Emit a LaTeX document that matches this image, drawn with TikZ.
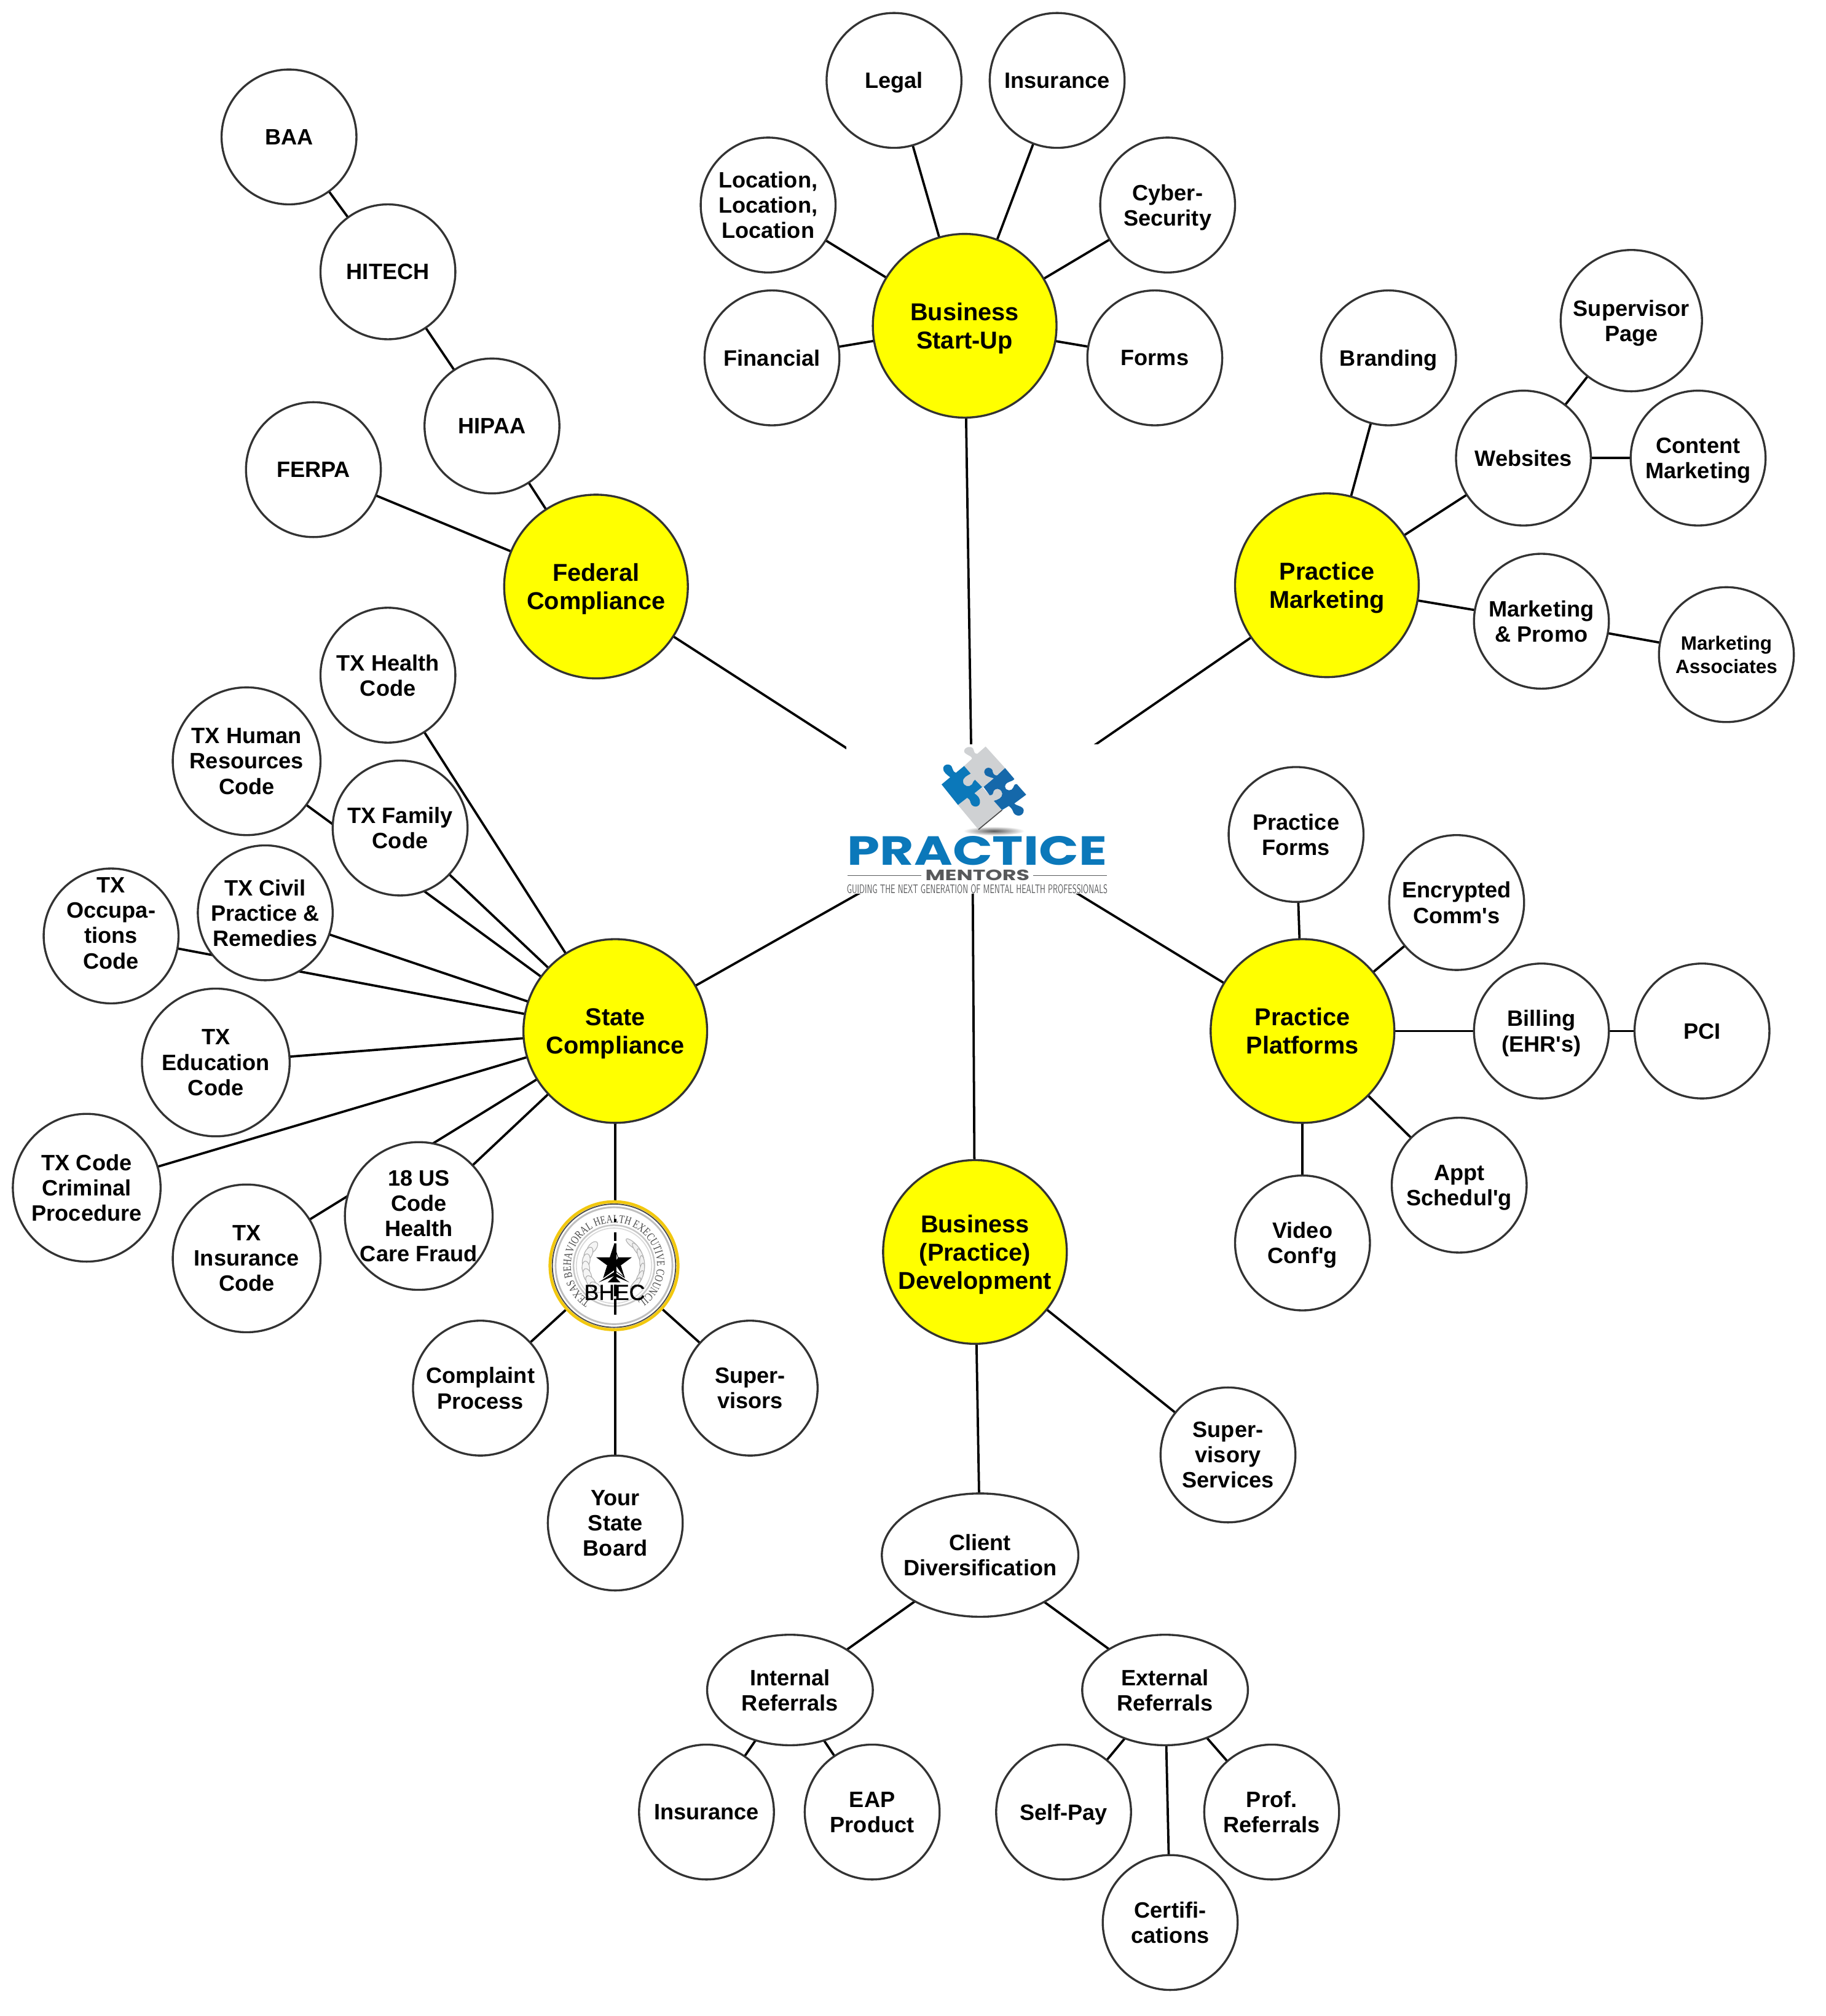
\documentclass[tikz,border=0pt]{standalone}
\usepackage{fontspec}
\usepackage{graphicx}
\setmainfont{Liberation Sans}
\newfontfamily\logofont{Poppins}
\newfontfamily\sealfont{Liberation Serif}[FakeStretch=0.77]
\newfontfamily\bhecfont{Liberation Sans}[FakeBold=1]
\usetikzlibrary{shapes.geometric,decorations.text}
\pgfdeclarelayer{bg}
\pgfsetlayers{bg,main}
\definecolor{logoblue}{HTML}{0B78BA}
\definecolor{logodark}{HTML}{1568AA}
\definecolor{logogray}{HTML}{CFD1D3}
\definecolor{logotext}{HTML}{58595B}
\definecolor{sealgold}{HTML}{F2C80F}
\definecolor{edgegray}{HTML}{333333}
\definecolor{hubyellow}{HTML}{FFFF00}
\tikzset{
  every node/.style={inner sep=0pt,outer sep=0pt},
  wnode/.style={ellipse,draw=edgegray,line width=1.6pt,fill=white,align=center,text=black,inner sep=-25pt,text depth=0pt,
    font=\bfseries\fontsize{17.3}{19.7}\selectfont,minimum width=105pt,minimum height=105pt},
  lnode/.style={wnode,minimum width=115pt,minimum height=115pt},
  ynode/.style={ellipse,draw=edgegray,line width=1.6pt,fill=hubyellow,align=center,text=black,inner sep=-25pt,text depth=0pt,
    font=\bfseries\fontsize{19}{22}\selectfont,minimum width=143pt,minimum height=143pt},
  conn/.style={draw=black,line width=1.8pt},
}
\begin{document}
\begin{tikzpicture}[x=1pt,y=-1pt]
\useasboundingbox (-1,-0.6) rectangle (1420.5,1568.8);
% hubs
\node[ynode] (start) at (750,253) {Business\\Start-Up};
\node[ynode] (mkt) at (1032,455) {Practice\\Marketing};
\node[ynode] (fed) at (463,456) {Federal\\Compliance};
\node[ynode] (state) at (478,802) {State\\Compliance};
\node[ynode] (plat) at (1013,802) {Practice\\Platforms};
\node[ynode] (dev) at (758,974) {Business\\(Practice)\\Development};
\coordinate (hub) at (756,645);
% business start-up
\node[wnode] (legal) at (695,62) {Legal};
\node[wnode] (insur) at (822,62) {Insurance};
\node[wnode] (loc) at (597,159) {Location,\\Location,\\Location};
\node[wnode] (cyber) at (908,159) {Cyber-\\Security};
\node[wnode] (fin) at (600,278) {Financial};
\node[wnode] (forms) at (898,278) {Forms};
% marketing
\node[wnode] (brand) at (1080,278) {Branding};
\node[wnode] (web) at (1185,356) {Websites};
\node[wnode,minimum width=110pt,minimum height=110pt] (sup) at (1269,249) {Supervisor\\Page};
\node[wnode] (content) at (1321,356) {Content\\Marketing};
\node[wnode] (promo) at (1199,483) {Marketing\\\& Promo};
\node[wnode,font=\bfseries\fontsize{15}{18}\selectfont] (assoc) at (1343,509) {Marketing\\Associates};
% federal
\node[wnode] (baa) at (224,106) {BAA};
\node[wnode] (hitech) at (301,211) {HITECH};
\node[wnode] (hipaa) at (382,331) {HIPAA};
\node[wnode] (ferpa) at (243,365) {FERPA};
% state
\node[wnode] (health) at (301,525) {TX Health\\Code};
\node[lnode] (human) at (191,592) {TX Human\\Resources\\Code};
\node[wnode] (family) at (310.5,644) {TX Family\\Code};
\node[wnode] (civil) at (205.5,710) {TX Civil\\Practice \&\\Remedies};
\node[wnode,text depth=20pt] (occ) at (85.5,728) {TX\\Occupa-\\tions\\Code};
\node[lnode] (edu) at (167,826.5) {TX\\Education\\Code};
\node[lnode] (crim) at (66.5,924) {TX Code\\Criminal\\Procedure};
\node[lnode] (txins) at (191,979) {TX\\Insurance\\Code};
\node[lnode] (usc) at (325,946) {18 US\\Code\\Health\\Care Fraud};
% seal
\node[circle,fill=sealgold,minimum size=102pt] (seal) at (477,984.7) {};
\begin{scope}[shift={(477,984.7)},x=1pt,y=1pt]
  \fill[white] (0,0) circle[radius=48.6pt];
  \draw[black!70,line width=.9pt] (0,0) circle[radius=48pt];
  \draw[black!25,line width=1.4pt] (0,0) circle[radius=45.5pt];
  \draw[black!22,line width=1.2pt] (0,0) circle[radius=31.5pt];
  \draw[black!15,line width=.8pt] (0,0) circle[radius=29.3pt];
  \path[decorate,decoration={text along path,text align=center,
    text={|\sealfont\fontsize{9}{10}\selectfont\color{black!70}|TEXAS BEHAVIORAL HEALTH EXECUTIVE COUNCIL}}]
    (242:33.5pt) arc[start angle=242,end angle=-62,radius=33.5pt];
  \foreach \a in {140,155,170,185,200,215,230}
    \draw[black!32,fill=black!4,line width=.5pt,rotate=\a] (22pt,0) ellipse[x radius=3pt,y radius=5.5pt];
  \foreach \a in {50,35,20,5,-10,-25,-40}
    \draw[black!32,fill=black!6,line width=.5pt,rotate=\a] (22pt,0) ellipse[x radius=1.9pt,y radius=6pt];
  \begin{scope}[shift={(0,2pt)}]
    \fill[black] (90:14.5pt)--(126:5.6pt)--(162:14.5pt)--(198:5.6pt)--(234:14.5pt)--(270:5.6pt)--(306:14.5pt)--(342:5.6pt)--(18:14.5pt)--(54:5.6pt)--cycle;
    \fill[white] (90:13pt)--(54:5pt)--(0,0)--cycle;
    \fill[white] (306:12.5pt)--(0,-5pt)--(0,0)--cycle;
  \end{scope}
  \fill[black] (-12pt,-13pt)--(0pt,-5pt)--(12pt,-13pt)--(0pt,-8pt)--cycle;
  \fill[black] (-5pt,-13pt)--(0,-8pt)--(5pt,-13pt)--cycle;
\end{scope}
\draw[black,line width=1.6pt,dash pattern=on 2.5pt off 8pt on 7pt off 2pt on 30pt off 2pt on 9pt off 2pt on 18pt off 8pt on 2pt off 20pt] (478,948) -- (478,1023);
\node[font=\bhecfont\fontsize{17}{19.7}\selectfont,text=black] (bhec) at (477.5,1005.5) {BHEC};
\node[wnode] (complaint) at (373,1080) {Complaint\\Process};
\node[wnode] (board) at (478,1185) {Your\\State\\Board};
\node[wnode] (supers) at (583,1080) {Super-\\visors};
% platforms
\node[wnode] (pforms) at (1008,649) {Practice\\Forms};
\node[wnode] (enc) at (1133,702) {Encrypted\\Comm\textquotesingle s};
\node[wnode] (bill) at (1199,802) {Billing\\(EHR\textquotesingle s)};
\node[wnode] (pci) at (1324,802) {PCI};
\node[wnode] (appt) at (1135,922) {Appt\\Schedul\textquotesingle g};
\node[wnode] (video) at (1013,967) {Video\\Conf\textquotesingle g};
% development
\node[wnode] (supserv) at (955,1132) {Super-\\visory\\Services};
\node[wnode,minimum width=153pt,minimum height=96pt] (client) at (762,1210) {Client\\Diversification};
\node[wnode,minimum width=129pt,minimum height=86pt] (internal) at (614,1315) {Internal\\Referrals};
\node[wnode,minimum width=129pt,minimum height=86pt] (external) at (906,1315) {External\\Referrals};
\node[wnode] (insb) at (549,1410) {Insurance};
\node[wnode] (eap) at (678,1410) {EAP\\Product};
\node[wnode] (self) at (827,1410) {Self-Pay};
\node[wnode] (prof) at (989,1410) {Prof.\\Referrals};
\node[wnode] (cert) at (910,1496) {Certifi-\\cations};
% connectors
\begin{pgfonlayer}{bg}
\foreach \a/\b in {start/hub,mkt/hub,fed/hub,state/hub,plat/hub,dev/hub,
  start/legal,start/insur,start/loc,start/cyber,start/fin,start/forms,
  mkt/brand,mkt/web,mkt/promo,web/sup,web/content,promo/assoc,
  fed/hipaa,hipaa/hitech,hitech/baa,fed/ferpa,
  state/health,state/human,state/family,state/civil,state/occ,state/edu,state/crim,state/txins,state/usc,
  state/board,seal/complaint,seal/supers,
  plat/pforms,plat/enc,plat/bill,bill/pci,plat/appt,plat/video,
  dev/supserv,dev/client,client/internal,client/external,
  internal/insb,internal/eap,external/self,external/prof,external/cert}
  \draw[conn] (\a) -- (\b);
\end{pgfonlayer}
% logo
\node[fill=white,minimum width=202pt,minimum height=116pt] (logobox) at (759,637) {};
\begin{scope}[shift={(641.1,564.6)},x=0.1595pt,y=-0.1595pt]
  \shade[inner color=black!65,outer color=white] (825,512) ellipse[x radius=150pt*0.1595,y radius=22pt*0.1595];
  % gray bottom piece
  \fill[logogray] (770,300) -- (805,338) .. controls (812,340) and (820,335) .. (822,325) .. controls (825,300) and (862,300) .. (866,330) .. controls (868,350) and (845,360) .. (825,365) -- (865,410) -- (750,505) -- (650,385) -- (695,350) -- cycle;
  % gray top piece
  \fill[logogray] (680,195) -- (718,160) .. controls (722,145) and (680,140) .. (680,122) .. controls (682,100) and (722,92) .. (727,118) .. controls (729,130) and (735,137) .. (745,135) -- (785,100) -- (880,205) -- (770,300) -- (733,262) .. controls (725,265) and (725,275) .. (718,285) .. controls (705,300) and (678,295) .. (675,272) .. controls (672,250) and (700,240) .. (712,232) -- cycle;
  % dark blue piece
  \fill[logodark] (775,297) -- (825,255) .. controls (810,250) and (778,245) .. (778,225) .. controls (780,195) and (820,198) .. (820,225) .. controls (822,235) and (835,245) .. (842,240) -- (880,205) -- (925,258) .. controls (920,272) and (880,270) .. (880,295) .. controls (882,320) and (915,318) .. (920,300) .. controls (925,285) and (930,282) .. (937,283) -- (983,335) -- (925,378) .. controls (935,390) and (970,390) .. (971,412) .. controls (970,445) and (925,445) .. (918,415) .. controls (915,405) and (905,395) .. (898,390) -- (865,410) -- (825,365) .. controls (845,360) and (868,350) .. (866,330) .. controls (862,300) and (825,300) .. (822,325) .. controls (820,335) and (812,340) .. (805,338) -- cycle;
  % blue left piece
  \fill[logoblue] (680,195) -- (712,232) .. controls (700,240) and (672,250) .. (675,272) .. controls (678,295) and (705,300) .. (718,285) .. controls (725,275) and (725,265) .. (733,262) -- (768,298) -- (730,328) .. controls (745,340) and (760,350) .. (757,375) .. controls (754,398) and (720,400) .. (712,375) .. controls (708,360) and (705,355) .. (695,350) -- (650,385) -- (570,285) -- (612,250) .. controls (600,240) and (575,225) .. (578,205) .. controls (582,182) and (618,182) .. (622,205) .. controls (624,215) and (630,225) .. (640,228) -- cycle;
  \draw[black!70,line width=.8pt] (750,505)--(865,410);
  \node[font=\logofont\bfseries,text=logoblue] (lgpractice) at (744,607.5) {\resizebox{202pt}{22.5pt}{PRACTICE}};
  \node[font=\logofont\bfseries,text=logotext] (lgmentors) at (745,729) {\resizebox{81pt}{8.3pt}{MENTORS}};
  \node[font=\fontfamily{lmss}\selectfont,text=logotext] (lgguide) at (744,796.5) {\resizebox{203pt}{6.9pt}{GUIDING THE NEXT GENERATION OF MENTAL HEALTH PROFESSIONALS}};
  \draw[logotext,line width=.7pt] (112,729)--(472,729) (1017,729)--(1378,729);
\end{scope}
\end{tikzpicture}
\end{document}
